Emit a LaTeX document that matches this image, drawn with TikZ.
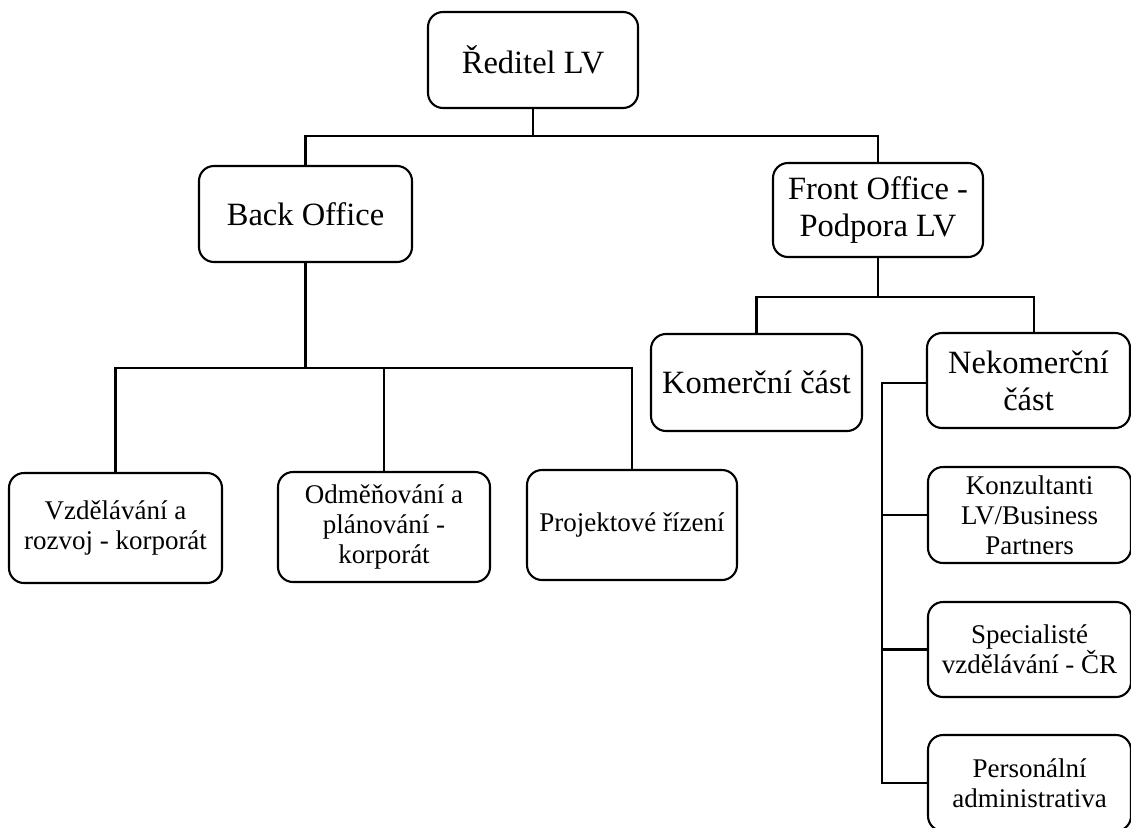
\documentclass[tikz,border=0pt]{standalone}
\usepackage{fontspec}
\setmainfont{Liberation Serif}
\begin{document}
\begin{tikzpicture}[x=1pt,y=-1pt,
  box/.style={draw=black, line width=2.1pt, rounded corners=15pt,
    rectangle, inner sep=0pt, align=center},
  bigtext/.style={font=\fontsize{32.5}{37}\selectfont},
  smalltext/.style={font=\fontsize{27}{30}\selectfont},
  link/.style={draw=black, line width=2.1pt}]
\useasboundingbox (0,0) rectangle (1131,827);
\clip (0,0) rectangle (1131,827);

% top level
\node[box, bigtext, minimum width=210pt, minimum height=96pt] (R) at (533,60) {Ředitel LV};

% second level
\node[box, bigtext, minimum width=213pt, minimum height=96pt] (BO) at (305.5,214) {Back Office};
\node[box, bigtext, minimum width=210pt, minimum height=94pt] (FO) at (878,210) {Front Office -\\Podpora LV};

% back office units
\node[box, smalltext, minimum width=213pt, minimum height=110pt] (V) at (115.5,528) {Vzdělávání a\\rozvoj - korporát};
\node[box, smalltext, minimum width=212pt, minimum height=110pt] (O) at (384,527) {Odměňování a\\plánování -\\korporát};
\node[box, smalltext, minimum width=210pt, minimum height=110pt] (P) at (632,525) {Projektové řízení};

% front office units
\node[box, bigtext, minimum width=211pt, minimum height=97pt] (K) at (756.5,382.5) {Komerční část};
\node[box, bigtext, minimum width=203pt, minimum height=95pt] (N) at (1028.5,380.5) {Nekomerční\\část};

% non-commercial teams
\node[box, smalltext, minimum width=203pt, minimum height=96pt] (C1) at (1029.5,515) {Konzultanti\\LV/Business\\Partners};
\node[box, smalltext, minimum width=203pt, minimum height=95pt] (C2) at (1029.5,649.5) {Specialisté\\vzdělávání - ČR};
\node[box, smalltext, minimum width=203pt, minimum height=96pt] (C3) at (1029.5,783) {Personální\\administrativa};

% connectors
\draw[link] (R.south) -- ++(0,27) coordinate (rj);
\draw[link] (rj) -| (BO.north);
\draw[link] (rj) -| (FO.north);

\draw[link] (BO.south) -- ++(0,105) coordinate (bj);
\draw[link] (bj) -| (V.north);
\draw[link] (bj) -| (O.north);
\draw[link] (bj) -| (P.north);

\draw[link] (FO.south) -- ++(0,39) coordinate (fj);
\draw[link] (fj) -| (K.north);
\draw[link] (fj) -| ([xshift=5.5pt]N.north);

\draw[link] ([yshift=-2.5pt]N.west) -- ++(-44,0) coordinate (nk) |- (C3.west);
\draw[link] (C1.west) -- (C1.west -| nk);
\draw[link] (C2.west) -- (C2.west -| nk);
\end{tikzpicture}
\end{document}
